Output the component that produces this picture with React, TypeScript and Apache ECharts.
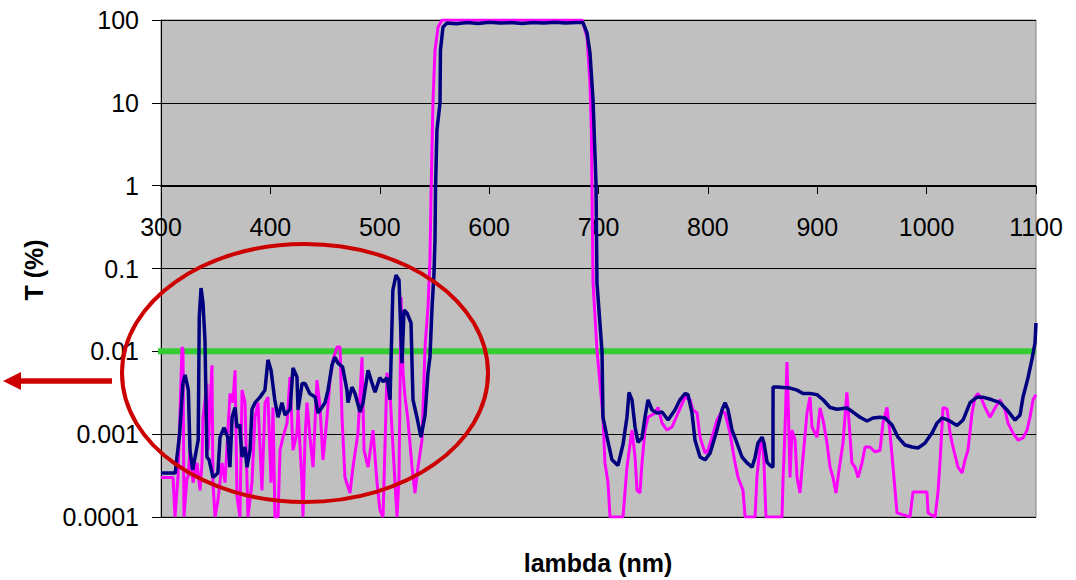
import React, { useEffect, useRef } from "react";
import * as echarts from "echarts";

// wavelength (nm), transmission T (%)
const navySeries: [number, number][] = [
  [300, 0.00034], [313, 0.00034], [314, 0.00045], [317, 0.001], [320, 0.0041], [322, 0.0052],
  [325, 0.0034], [326.5, 0.00064], [329, 0.00037], [332, 0.00061], [334, 0.00085], [335, 0.026],
  [336.6, 0.058], [338.4, 0.038], [340.2, 0.0137], [342, 0.00053], [344, 0.00049], [347.5, 0.0003],
  [352, 0.00034], [354, 0.00092], [357.6, 0.0012], [361, 0.00092], [363, 0.0004], [365, 0.0016],
  [367.7, 0.0021], [369.5, 0.0012], [372, 0.0013], [374, 0.00053], [376.8, 0.0007], [378.6, 0.0004],
  [381.4, 0.00064], [383.2, 0.002], [386, 0.0024], [390.5, 0.0028], [395, 0.0034], [397.8, 0.0079],
  [400.6, 0.0059], [404, 0.0026], [407, 0.0016], [410.6, 0.0024], [413.4, 0.0017], [418, 0.002],
  [420.7, 0.0063], [424.3, 0.0049], [425.3, 0.00196], [429, 0.0041], [431.7, 0.0041], [436, 0.0031],
  [441, 0.0028], [443.5, 0.0018], [447, 0.0021], [450, 0.0024], [452.7, 0.0034], [456.3, 0.0068],
  [459, 0.0085], [461.8, 0.0072], [466, 0.0065], [470, 0.0034], [471, 0.0024], [474.6, 0.0037],
  [477.4, 0.0031], [482, 0.00185], [484.7, 0.0024], [489.3, 0.0059], [493, 0.0041], [495.7, 0.0032],
  [500, 0.0048], [503, 0.0043], [506.6, 0.0048], [509.4, 0.0026], [512, 0.055], [514.9, 0.083],
  [517.6, 0.073], [520.3, 0.0072], [522.2, 0.0315], [524.9, 0.029], [528.6, 0.022], [529.5, 0.0072],
  [530.4, 0.0026], [534, 0.0016], [537.7, 0.00092], [541.4, 0.0017], [544.1, 0.0055], [545.9, 0.0085],
  [547.8, 0.034], [549.6, 0.088], [550.5, 0.22], [551, 0.96], [552.3, 4.7], [555.1, 10], [555.5, 43],
  [557.8, 82], [561.5, 92], [570, 90], [580, 93], [590, 91], [600, 94], [610, 92], [620, 93],
  [630, 91], [640, 93], [650, 92], [660, 94], [670, 92], [680, 93], [685.8, 93], [689.5, 70],
  [692.2, 40], [695, 10.8], [697.7, 1.08], [698.6, 0.067], [703.2, 0.01], [704.1, 0.0016],
  [707.8, 0.00092], [712.3, 0.00049], [717.8, 0.00042], [722.4, 0.00075], [726, 0.0016],
  [727.9, 0.0032], [730.6, 0.0026], [733.4, 0.00122], [736.1, 0.0008], [739.8, 0.0009],
  [742.5, 0.0016], [745.3, 0.0026], [748.9, 0.00196], [753.5, 0.0018], [758.1, 0.00185],
  [763.6, 0.00148], [769.9, 0.00196], [774.5, 0.0026], [779.1, 0.0031], [781.8, 0.003],
  [785.5, 0.0018], [788.2, 0.00085], [792.8, 0.00053], [797.4, 0.00049], [802, 0.00059],
  [808.3, 0.00112], [812.9, 0.00196], [815.7, 0.0024], [818.4, 0.00196], [822.1, 0.00112],
  [826.6, 0.00078], [831.2, 0.00053], [835.8, 0.00045], [840.4, 0.0004], [843.1, 0.00052],
  [845.8, 0.00078], [849.5, 0.00092], [851.3, 0.00078], [854.1, 0.00046], [856.8, 0.00042],
  [859.5, 0.0004], [859.6, 0.0037], [863.2, 0.0037], [875.1, 0.0036], [881.5, 0.0034],
  [887, 0.0031], [893.4, 0.0031], [899.8, 0.003], [905.3, 0.0026], [911.7, 0.0021], [918, 0.002],
  [927.1, 0.00207], [932.6, 0.00185], [939.1, 0.0016], [945.5, 0.00144], [951, 0.00157],
  [957.4, 0.0016], [962, 0.00157], [968.4, 0.00129], [973.8, 0.00092], [980.2, 0.00074],
  [986.6, 0.0007], [992.1, 0.00068], [998.5, 0.00078], [1004.9, 0.00103], [1009.5, 0.00136],
  [1014.1, 0.00157], [1019.6, 0.00148], [1027.8, 0.00127], [1033.3, 0.00148], [1039.7, 0.0024],
  [1046.1, 0.0028], [1051.5, 0.0028], [1059.8, 0.0026], [1067.1, 0.0024], [1073.5, 0.00196],
  [1080.8, 0.00148], [1085.4, 0.0017], [1088.1, 0.0028], [1092.7, 0.0048], [1096.4, 0.0081],
  [1099.1, 0.0126], [1100, 0.022],
];

const magentaSeries: [number, number][] = [
  [300, 0.0003], [311, 0.0003], [312.8, 0.0001], [315.5, 0.0003], [319.2, 0.0113], [320.1, 0.0104],
  [321, 0.0001], [323.8, 0.0003], [324.7, 0.0003], [326.5, 0.00064], [329.3, 0.00026], [332.9, 0.00045],
  [335.7, 0.00021], [337.5, 0.00045], [338.4, 0.0016], [342.1, 0.0041], [343, 0.00064], [346.6, 0.0068],
  [347.5, 0.00026], [349.4, 0.0001], [352.1, 0.00016], [355.8, 0.00045], [358.5, 0.00026], [363.1, 0.0031],
  [365.8, 0.0024], [367.7, 0.0059], [369.5, 0.000174], [372.2, 0.0001], [374.1, 0.0034], [376.8, 0.0024],
  [379.5, 0.0001], [383.2, 0.00026], [385.9, 0.0016], [388.7, 0.0024], [392.3, 0.00021], [395.1, 0.0024],
  [397.8, 0.0028], [400.6, 0.00026], [402.4, 0.0021], [404.2, 0.0001], [407, 0.0001], [408.8, 0.00064],
  [411.5, 0.00092], [415.2, 0.00136], [417.9, 0.0049], [420.7, 0.00064], [424.3, 0.00103], [425.3, 0.00196],
  [428.9, 0.00026], [429.8, 0.0001], [431.7, 0.00092], [433.5, 0.0024], [436.2, 0.00092], [439, 0.0004],
  [442.6, 0.0045], [445.4, 0.0021], [448.1, 0.00049], [451.8, 0.0016], [454.5, 0.0045], [457.3, 0.0079],
  [460.9, 0.0113], [463.7, 0.0113], [465.5, 0.0016], [468.2, 0.0003], [472.8, 0.000195], [475.5, 0.0004],
  [480.1, 0.00103], [483.8, 0.0085], [485.6, 0.00064], [489.3, 0.0004], [493.8, 0.00112], [497.5, 0.00026],
  [500.2, 0.00012], [503, 0.0001], [506.6, 0.0055], [509.4, 0.0031], [513.9, 0.00026], [515.8, 0.0001],
  [517.6, 0.0003], [519.5, 0.045], [521.3, 0.0055], [523.1, 0.0028], [525.8, 0.00148], [529.5, 0.0004],
  [532.2, 0.000195], [535, 0.0004], [538.6, 0.00085], [541.4, 0.0113], [544.1, 0.034], [545.9, 0.127],
  [546.8, 0.67], [548.7, 10.8], [550.5, 43], [553.3, 82], [556.9, 100], [685, 100], [689.5, 62],
  [692.2, 17], [693.5, 4.3], [695, 0.067], [698.6, 0.0104], [701.4, 0.0041], [704.1, 0.0016],
  [705.9, 0.00045], [708.7, 0.00026], [710.5, 0.0001], [722.4, 0.0001], [726, 0.0004], [730.6, 0.00112],
  [733.4, 0.00053], [735.2, 0.00021], [737.9, 0.000195], [739.8, 0.00045], [742.5, 0.00112],
  [745.3, 0.0016], [751.7, 0.0018], [754.4, 0.0021], [758.1, 0.00136], [762.6, 0.00112],
  [767.2, 0.00122], [772.7, 0.0018], [779.1, 0.0028], [783.7, 0.0026], [786.4, 0.00196],
  [790.1, 0.0018], [792.8, 0.00092], [797.4, 0.00059], [800.1, 0.00064], [803.8, 0.00092],
  [808.3, 0.00148], [812.9, 0.0019], [815.7, 0.0018], [820.2, 0.00103], [824.8, 0.00045],
  [827.6, 0.0003], [832.1, 0.00021], [834, 0.0001], [843.1, 0.0001], [844.9, 0.00031], [847.7, 0.0007],
  [849.5, 0.00092], [851.3, 0.00045], [853.1, 0.0001], [867.8, 0.0001], [868.7, 0.00028],
  [870.5, 0.00112], [872.3, 0.0074], [873.3, 0.0028], [875.1, 0.0003], [876.9, 0.00112],
  [879.7, 0.00085], [881.5, 0.0003], [884.2, 0.000195], [887, 0.00053], [890.6, 0.0018],
  [893.4, 0.0028], [895.2, 0.00122], [899.8, 0.00092], [902.5, 0.00207], [905.3, 0.00148],
  [908.9, 0.00078], [911.7, 0.0004], [914.4, 0.0003], [917.1, 0.000195], [919.9, 0.00037],
  [923.5, 0.00078], [927.1, 0.0032], [928.1, 0.0021], [931.7, 0.00045], [934.5, 0.0004],
  [937.3, 0.0003], [940.9, 0.00045], [943.7, 0.0007], [948.2, 0.0007], [952.8, 0.00061],
  [957.4, 0.00064], [960.1, 0.00136], [963.8, 0.0021], [966.5, 0.00103], [969.3, 0.0004],
  [972.9, 0.000112], [984.8, 0.0001], [987.5, 0.0002], [1000.3, 0.0002], [1001.3, 0.000112],
  [1007.7, 0.0001], [1010.4, 0.0002], [1012.2, 0.00045], [1015, 0.0021], [1018.7, 0.002],
  [1021.4, 0.00103], [1024.1, 0.0007], [1028.7, 0.0004], [1032.4, 0.00034], [1035.1, 0.00049],
  [1037.8, 0.00064], [1041.5, 0.0018], [1044.3, 0.0028], [1047, 0.0031], [1050.6, 0.0026],
  [1053.4, 0.0021], [1058, 0.0016], [1062.5, 0.00207], [1067.1, 0.0026], [1071.7, 0.00196],
  [1074.4, 0.00136], [1079, 0.00103], [1083.6, 0.00085], [1088.1, 0.0009], [1091.8, 0.00112],
  [1094.5, 0.0016], [1097.3, 0.0026], [1100, 0.003],
];

const thresholdLine: [number, number][] = [[290, 0.01], [1100, 0.01]];

const yTickLabels = ["0.0001", "0.001", "0.01", "0.1", "1", "10", "100"];
const xMin = 300;
const xMax = 1100;
const xStep = 100;

const FONT = "'Liberation Sans', Arial, Helvetica, sans-serif";

export default function App() {
  const ref = useRef<HTMLDivElement>(null);

  useEffect(() => {
    document.body.style.margin = "0";
    if (!ref.current) return;
    const chart = echarts.init(ref.current, null, { renderer: "svg" });
    chart.setOption({
      animation: false,
      backgroundColor: "#ffffff",
      textStyle: { fontFamily: FONT },
      grid: {
        left: 161,
        top: 20,
        width: 875,
        height: 497,
        show: true,
        backgroundColor: "#C0C0C0",
        borderColor: "#808080",
        borderWidth: 1,
        containLabel: false,
        outerBoundsMode: "none",
      },
      xAxis: {
        type: "value",
        min: xMin,
        max: xMax,
        interval: xStep,
        position: "bottom",
        offset: -331,
        axisLine: { show: true, lineStyle: { color: "#000", width: 1 } },
        axisTick: { show: true, inside: false, length: 8, lineStyle: { color: "#000" } },
        splitLine: { show: false },
        axisLabel: {
          color: "#000",
          fontSize: 25,
          fontFamily: FONT,
          margin: 28,
          showMinLabel: true,
          showMaxLabel: true,
          hideOverlap: false,
          formatter: (v: number) => String(Math.round(v)),
        },
      },
      yAxis: {
        type: "log",
        logBase: 10,
        min: 0.0001,
        max: 100,
        axisLine: { show: true, lineStyle: { color: "#000", width: 1 } },
        axisTick: { show: true, inside: false, length: 9, lineStyle: { color: "#000" } },
        splitLine: { show: true, lineStyle: { color: "#000", width: 1 } },
        axisLabel: {
          color: "#000",
          fontSize: 25,
          fontFamily: FONT,
          margin: 22,
          formatter: (v: number) => {
            const i = Math.round(Math.log10(v)) + 4;
            return yTickLabels[i] ?? String(v);
          },
        },
      },
      series: [
        {
          type: "line",
          data: thresholdLine,
          symbol: "none",
          clip: false,
          lineStyle: { color: "#33CC33", width: 6 },
          z: 1,
          silent: true,
        },
        {
          type: "line",
          data: magentaSeries,
          symbol: "none",
          lineStyle: { color: "#FF00FF", width: 3 },
          z: 2,
        },
        {
          type: "line",
          data: navySeries,
          symbol: "none",
          lineStyle: { color: "#000080", width: 3.5 },
          z: 3,
        },
      ],
      graphic: [
        {
          type: "ellipse",
          shape: { cx: 305, cy: 373, rx: 183, ry: 129 },
          style: { fill: "none", stroke: "#CC0000", lineWidth: 4 },
          z: 100,
          silent: true,
        },
        {
          type: "line",
          shape: { x1: 112, y1: 381, x2: 18, y2: 381 },
          style: { stroke: "#CC0000", lineWidth: 5.5 },
          z: 100,
          silent: true,
        },
        {
          type: "polygon",
          shape: { points: [[3, 381], [21, 372], [21, 390]] },
          style: { fill: "#CC0000" },
          z: 100,
          silent: true,
        },
        {
          type: "text",
          x: 34,
          y: 270,
          rotation: Math.PI / 2,
          style: {
            text: "T (%)",
            fontSize: 25,
            fontWeight: "bold",
            fontFamily: FONT,
            fill: "#000",
            align: "center",
            verticalAlign: "middle",
          },
          z: 100,
        },
        {
          type: "text",
          x: 598,
          y: 563,
          style: {
            text: "lambda (nm)",
            fontSize: 25,
            fontWeight: "bold",
            fontFamily: FONT,
            fill: "#000",
            align: "center",
            verticalAlign: "middle",
          },
          z: 100,
        },
      ],
    });
    return () => chart.dispose();
  }, []);

  return <div ref={ref} style={{ width: 1076, height: 580 }} />;
}
